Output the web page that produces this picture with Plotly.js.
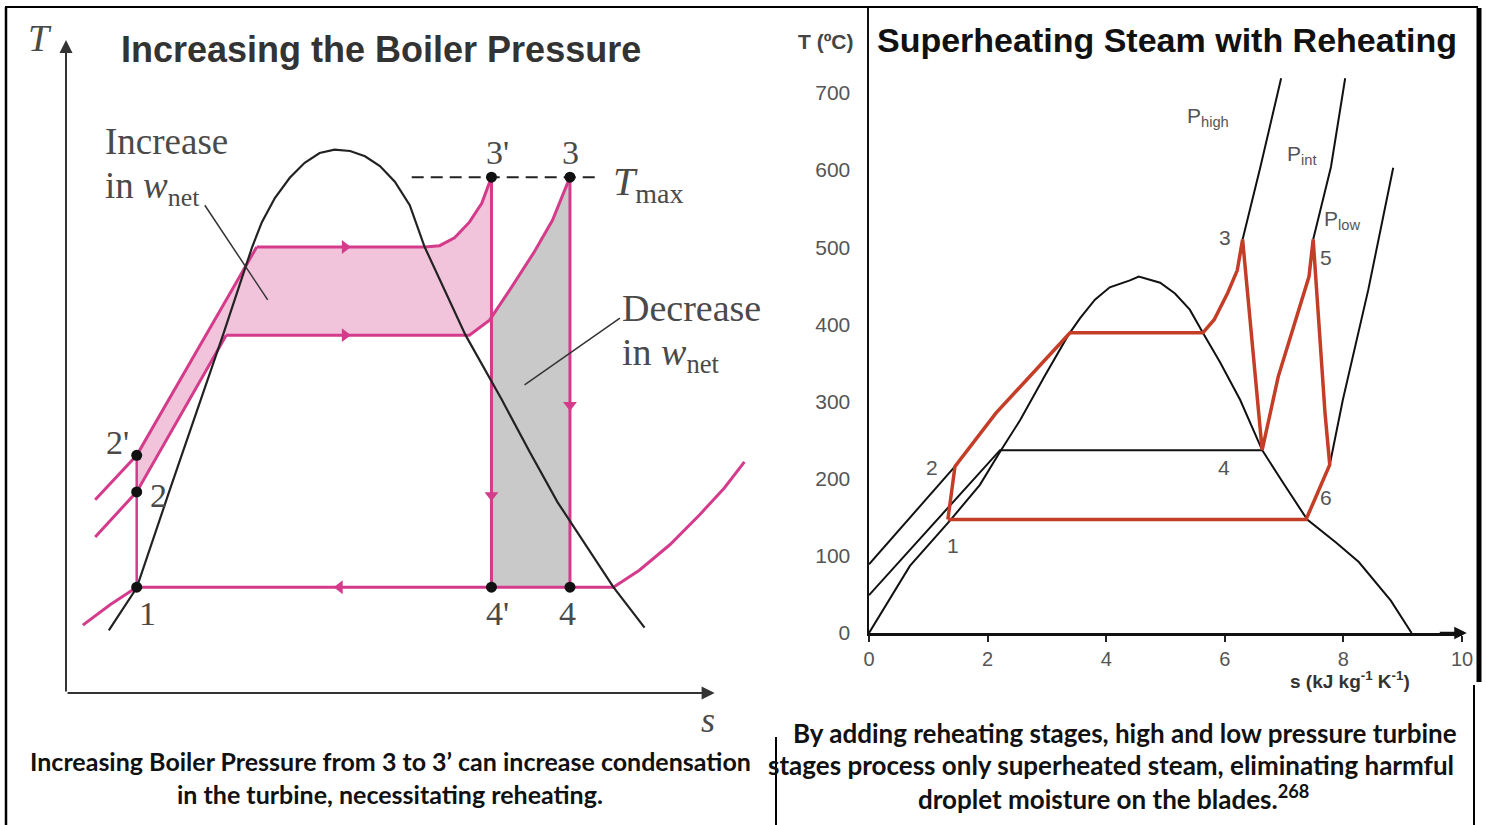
<!DOCTYPE html>
<html><head><meta charset="utf-8">
<script src="https://cdn.plot.ly/plotly-3.0.1.min.js"></script>
<style>html,body{margin:0;padding:0;background:#fff;}#chart{width:1486px;height:825px;}</style>
</head><body><div id="chart"></div>
<script>
// ===== LEFT: schematic T-s diagram (arbitrary units 0-100) =====
const domeL_s = [6.6, 10.9, 16.0, 20.8, 24.2, 28.7, 30.2, 32.2, 34.5, 36.8, 39.1, 41.4, 43.8, 46.1, 48.4, 50.7, 53.0, 55.3, 58.4, 61.6, 67.2, 71.5, 75.8, 80.1, 84.4, 89.2];
const domeL_T = [9.6, 16.1, 31.1, 44.9, 54.8, 68.3, 72.1, 75.8, 78.9, 81.2, 82.7, 83.2, 83.0, 82.2, 80.7, 78.3, 74.7, 68.3, 61.7, 54.8, 44.9, 36.9, 29.2, 22.7, 16.2, 10.0];
// compressed-liquid lines (low / high boiler pressure)
const liqLo_s = [4.5, 10.9, 24.7], liqLo_T = [23.9, 30.8, 54.8];
const liqHi_s = [4.5, 10.9, 29.4], liqHi_T = [29.6, 36.4, 68.3];
// boiling + superheating
const boilLo_s = [24.7, 62.2, 65.3, 68.4, 72.1, 75.0, 77.7];
const boilLo_T = [54.8, 54.8, 57.1, 61.7, 67.4, 72.4, 79.0];
const boilHi_s = [29.4, 55.3, 57.6, 59.9, 62.2, 64.1, 65.6];
const boilHi_T = [68.3, 68.3, 68.5, 69.7, 72.1, 75.0, 79.0];
// condenser pressure line
const cond_s = [2.6, 6.8, 10.9, 84.4, 88.4, 93.1, 97.7, 101.5, 104.6];
const cond_T = [10.4, 13.5, 16.2, 16.2, 18.8, 22.7, 27.3, 31.4, 35.4];
// state points
const ptL_lab = ["1", "2", "2'", "3'", "3", "4'", "4"];
const ptL_s = [10.9, 10.9, 10.9, 65.6, 77.7, 65.6, 77.7];
const ptL_T = [16.2, 30.8, 36.4, 79.0, 79.0, 16.2, 16.2];
const tmax_s = [53.3, 82.3];

// ===== RIGHT: T-s diagram with reheating =====
const domeR_s = [0, 0.69, 1.38, 1.87, 2.21, 2.55, 2.97, 3.36, 3.56, 3.81, 4.06, 4.40, 4.55, 4.91, 5.16, 5.41, 5.63, 5.92, 6.26, 6.63, 6.98, 7.39, 7.88, 8.26, 8.80, 9.15];
const domeR_T = [0, 87, 147, 192, 235, 276, 334, 386, 408, 432, 448, 457, 462, 454, 440, 419, 389, 351, 302, 237, 195, 147, 117, 92, 42, 0];
const liqHighR_s = [0, 1.45], liqHighR_T = [89, 216];
const liqIntR_s = [0, 2.21, 6.63], liqIntR_T = [49, 237, 237];
const pHigh_s = [6.30, 6.60, 6.95], pHigh_T = [510, 604, 719];
const pInt_s = [7.49, 7.79, 8.03], pInt_T = [510, 604, 719];
const pLow_s = [7.77, 7.99, 8.42, 8.84], pLow_T = [218, 302, 445, 603];
const cycle_s = [1.33, 1.45, 2.14, 3.39, 5.63, 5.82, 6.05, 6.21, 6.30, 6.63, 6.90, 7.20, 7.42, 7.49, 7.69, 7.77, 7.37, 1.33];
const cycle_T = [147, 216, 285, 389, 389, 406, 441, 470, 510, 237, 332, 406, 462, 510, 285, 218, 147, 147];
const xTicks = [0, 2, 4, 6, 8, 10];
const yTicks = [0, 100, 200, 300, 400, 500, 600, 700];

const MAG = '#d43b8b', PINK = '#f2c4dc', GRAY = '#c9c9c9', RED = '#c43d27';

// --- build fill polygons from the curves ---
function interp(xs, ys, x) {
  for (let i = 0; i < xs.length - 1; i++) {
    if (x >= xs[i] && x <= xs[i + 1]) return ys[i] + (ys[i + 1] - ys[i]) * (x - xs[i]) / (xs[i + 1] - xs[i]);
  }
  return ys[ys.length - 1];
}
const sT1 = ptL_s[3], sT2 = ptL_s[4];
const cross = interp(boilLo_s, boilLo_T, sT1);
let pinkS = [], pinkT = [];
pinkS.push(liqHi_s[1]); pinkT.push(liqHi_T[1]);
for (let i = 0; i < boilHi_s.length; i++) { pinkS.push(boilHi_s[i]); pinkT.push(boilHi_T[i]); }
pinkS.push(sT1); pinkT.push(cross);
for (let i = boilLo_s.length - 1; i >= 0; i--) if (boilLo_s[i] < sT1) { pinkS.push(boilLo_s[i]); pinkT.push(boilLo_T[i]); }
pinkS.push(liqLo_s[1]); pinkT.push(liqLo_T[1]);
let grayS = [sT1], grayT = [cross];
for (let i = 0; i < boilLo_s.length; i++) if (boilLo_s[i] > sT1) { grayS.push(boilLo_s[i]); grayT.push(boilLo_T[i]); }
grayS.push(sT2, sT1); grayT.push(ptL_T[6], ptL_T[5]);

function ln(x, y, color, w, xa, ya, dash) {
  return {type: 'scatter', mode: 'lines', x: x, y: y, xaxis: xa, yaxis: ya, hoverinfo: 'skip',
    line: {color: color, width: w, dash: dash || 'solid'}, showlegend: false};
}
const traces = [
  {type: 'scatter', mode: 'lines', x: pinkS, y: pinkT, fill: 'toself', fillcolor: PINK, line: {width: 0}, xaxis: 'x', yaxis: 'y', showlegend: false, hoverinfo: 'skip'},
  {type: 'scatter', mode: 'lines', x: grayS, y: grayT, fill: 'toself', fillcolor: GRAY, line: {width: 0}, xaxis: 'x', yaxis: 'y', showlegend: false, hoverinfo: 'skip'},
  ln(liqLo_s, liqLo_T, MAG, 3, 'x', 'y'),
  ln(liqHi_s, liqHi_T, MAG, 3, 'x', 'y'),
  ln(boilLo_s, boilLo_T, MAG, 3, 'x', 'y'),
  ln(boilHi_s, boilHi_T, MAG, 3, 'x', 'y'),
  ln(cond_s, cond_T, MAG, 3, 'x', 'y'),
  ln([ptL_s[0], ptL_s[2]], [ptL_T[0], ptL_T[2]], MAG, 2.5, 'x', 'y'),
  ln([ptL_s[3], ptL_s[5]], [ptL_T[3], ptL_T[5]], MAG, 3, 'x', 'y'),
  ln([ptL_s[4], ptL_s[6]], [ptL_T[4], ptL_T[6]], MAG, 3, 'x', 'y'),
  ln(domeL_s, domeL_T, '#222', 2.2, 'x', 'y'),
  ln(tmax_s, [ptL_T[3], ptL_T[3]], '#222', 2, 'x', 'y', '12px,7px'),
  // direction arrowheads
  {type: 'scatter', mode: 'markers', xaxis: 'x', yaxis: 'y', hoverinfo: 'skip', showlegend: false,
    x: [43.0, 43.0, 42.2, ptL_s[3], ptL_s[4]], y: [boilHi_T[0], boilLo_T[0], cond_T[3], 30.3, 44.1],
    marker: {symbol: ['triangle-right', 'triangle-right', 'triangle-left', 'triangle-down', 'triangle-down'], size: 12, color: MAG}},
  {type: 'scatter', mode: 'markers', x: ptL_s, y: ptL_T, xaxis: 'x', yaxis: 'y', hoverinfo: 'skip', showlegend: false,
    marker: {size: 11, color: '#111'}},
  // right chart
  ln(domeR_s, domeR_T, '#111', 2, 'x2', 'y2'),
  ln(liqHighR_s, liqHighR_T, '#111', 2, 'x2', 'y2'),
  ln(liqIntR_s, liqIntR_T, '#111', 2, 'x2', 'y2'),
  ln(pHigh_s, pHigh_T, '#111', 2, 'x2', 'y2'),
  ln(pInt_s, pInt_T, '#111', 2, 'x2', 'y2'),
  ln(pLow_s, pLow_T, '#111', 2, 'x2', 'y2'),
  ln(cycle_s, cycle_T, RED, 3.5, 'x2', 'y2')
];

const W = 1486, H = 825;
const px = v => v / W, py = v => 1 - v / H;
const SERIF = 'Liberation Serif, Times New Roman, serif';
const SANS = 'Liberation Sans, Arial, sans-serif';
const CAP = 'Lato, Open Sans, sans-serif';
function lab(x, y, t, size, xa, ya, opts) {
  return Object.assign({x: x, y: y, xref: xa, yref: ya, text: t, showarrow: false,
    xanchor: 'center', yanchor: 'middle',
    font: {family: SERIF, size: size, color: '#4a4a4a'}}, opts || {});
}
function sl(x, y, t, size) { // right-chart label
  return {x: x, y: y, xref: 'x2', yref: 'y2', text: t, showarrow: false, xanchor: 'center', yanchor: 'middle',
    font: {family: SANS, size: size, color: '#555'}};
}
function pap(x, y, t, font, opts) {
  return Object.assign({x: px(x), y: py(y), xref: 'paper', yref: 'paper', text: t, showarrow: false,
    xanchor: 'center', yanchor: 'middle', font: font}, opts || {});
}
const capL = {family: CAP, size: 25, color: '#111', weight: 'bold'};
const capR = {family: CAP, size: 26, color: '#111', weight: 'bold'};
const annotations = [
  // left axes arrows
  {x: 100, y: 0, ax: 0, ay: 0, xref: 'x', yref: 'y', axref: 'x', ayref: 'y', text: '', showarrow: true, arrowhead: 2, arrowsize: 1.3, arrowwidth: 2, arrowcolor: '#333'},
  {x: 0, y: 100, ax: 0, ay: 0, xref: 'x', yref: 'y', axref: 'x', ayref: 'y', text: '', showarrow: true, arrowhead: 2, arrowsize: 1.3, arrowwidth: 2, arrowcolor: '#333'},
  pap(40, 38, '<i>T</i>', {family: SERIF, size: 38, color: '#4a4a4a'}),
  pap(708, 720, '<i>s</i>', {family: SERIF, size: 36, color: '#4a4a4a'}),
  lab(5.7, 84.4, 'Increase', 37, 'x', 'y', {xanchor: 'left'}),
  lab(5.7, 77.2, 'in <i>w</i><sub>net</sub>', 37, 'x', 'y', {xanchor: 'left'}),
  lab(85.4, 59.0, 'Decrease', 38, 'x', 'y', {xanchor: 'left'}),
  lab(85.4, 51.7, 'in <i>w</i><sub>net</sub>', 38, 'x', 'y', {xanchor: 'left'}),
  lab(84.0, 78.0, '<i>T</i><sub>max</sub>', 40, 'x', 'y', {xanchor: 'left'}),
  lab(66.6, 82.8, "3'", 34, 'x', 'y'),
  lab(77.8, 82.8, '3', 34, 'x', 'y'),
  lab(8.0, 38.4, "2'", 34, 'x', 'y'),
  lab(14.2, 30.2, '2', 34, 'x', 'y'),
  lab(12.6, 12.2, '1', 34, 'x', 'y'),
  lab(66.6, 12.2, "4'", 34, 'x', 'y'),
  lab(77.3, 12.2, '4', 34, 'x', 'y'),
  pap(381, 50, 'Increasing the Boiler Pressure', {family: SANS, size: 36, color: '#333', weight: 'bold'}),
  // right chart
  pap(1167, 40, 'Superheating Steam with Reheating', {family: SANS, size: 34, color: '#111', weight: 'bold'}),
  pap(825, 42, 'T (ºC)', {family: SANS, size: 21, color: '#444', weight: 'bold'}),
  pap(1350, 680, 's (kJ kg<sup>-1</sup> K<sup>-1</sup>)', {family: SANS, size: 19, color: '#333', weight: 'bold'}),
  {x: 10.08, y: 0, ax: 9.6, ay: 0, xref: 'x2', yref: 'y2', axref: 'x2', ayref: 'y2', text: '', showarrow: true, arrowhead: 2, arrowsize: 1, arrowwidth: 2.5, arrowcolor: '#111'},
  sl(5.72, 669, 'P<sub>high</sub>', 21),
  sl(7.30, 620, 'P<sub>int</sub>', 21),
  sl(7.98, 535, 'P<sub>low</sub>', 21),
  sl(6.00, 513, '3', 21),
  sl(7.71, 486, '5', 21),
  sl(5.99, 214, '4', 21),
  sl(1.06, 214, '2', 21),
  sl(1.42, 114, '1', 21),
  sl(7.71, 175, '6', 21),
  // captions
  pap(390, 761, 'Increasing Boiler Pressure from 3 to 3’ can increase condensation', capL),
  pap(390, 794, 'in the turbine, necessitating reheating.', capL),
  pap(1125, 733, 'By adding reheating stages, high and low pressure turbine', capR),
  pap(1111, 765, 'stages process only superheated steam, eliminating harmful', capR),
  pap(1113, 797, 'droplet moisture on the blades.<sup>268</sup>', capR)
];

const shapes = [
  {type: 'line', xref: 'x', yref: 'y', x0: 21.4, y0: 74.7, x1: 31.1, y1: 60.2, line: {color: '#333', width: 1.5}},
  {type: 'line', xref: 'x', yref: 'y', x0: 85.4, y0: 57.4, x1: 70.7, y1: 47.2, line: {color: '#333', width: 1.5}},
  // slide table borders
  {type: 'line', xref: 'paper', yref: 'paper', x0: px(5), y0: py(7), x1: px(1478), y1: py(7), line: {color: '#000', width: 2}},
  {type: 'line', xref: 'paper', yref: 'paper', x0: px(6), y0: py(7), x1: px(6), y1: py(825), line: {color: '#000', width: 2.5}},
  {type: 'line', xref: 'paper', yref: 'paper', x0: px(776), y0: py(737), x1: px(776), y1: py(825), line: {color: '#000', width: 2}},
  {type: 'line', xref: 'paper', yref: 'paper', x0: px(1479), y0: py(8), x1: px(1479), y1: py(682), line: {color: '#000', width: 5}},
  {type: 'line', xref: 'paper', yref: 'paper', x0: px(1474), y0: py(685), x1: px(1474), y1: py(825), line: {color: '#000', width: 2}}
];

const layout = {
  width: W, height: H, margin: {l: 0, r: 0, t: 0, b: 0},
  paper_bgcolor: '#fff', plot_bgcolor: 'rgba(0,0,0,0)', showlegend: false,
  xaxis: {domain: [px(66), px(760)], range: [0, 107], visible: false, fixedrange: true},
  yaxis: {domain: [py(693), py(40)], range: [0, 100], visible: false, fixedrange: true},
  xaxis2: {domain: [px(869), px(1462)], range: [0, 10], anchor: 'y2', showgrid: false, zeroline: false,
    showline: true, linecolor: '#111', linewidth: 2.5, ticks: 'outside', ticklen: 6, tickwidth: 2, tickcolor: '#222',
    tickvals: xTicks, ticktext: xTicks.map(String), tickfont: {family: SANS, size: 20, color: '#555'}, fixedrange: true},
  yaxis2: {domain: [py(633), py(8)], range: [0, 810], anchor: 'x2', showgrid: false, zeroline: false,
    showline: true, linecolor: '#111', linewidth: 2.5, ticks: '', ticklabelstandoff: 12,
    tickvals: yTicks, ticktext: yTicks.map(String), tickfont: {family: SANS, size: 21, color: '#555'}, fixedrange: true},
  annotations: annotations, shapes: shapes
};
Plotly.newPlot('chart', traces, layout, {displayModeBar: false, staticPlot: true});
</script>
</body></html>
